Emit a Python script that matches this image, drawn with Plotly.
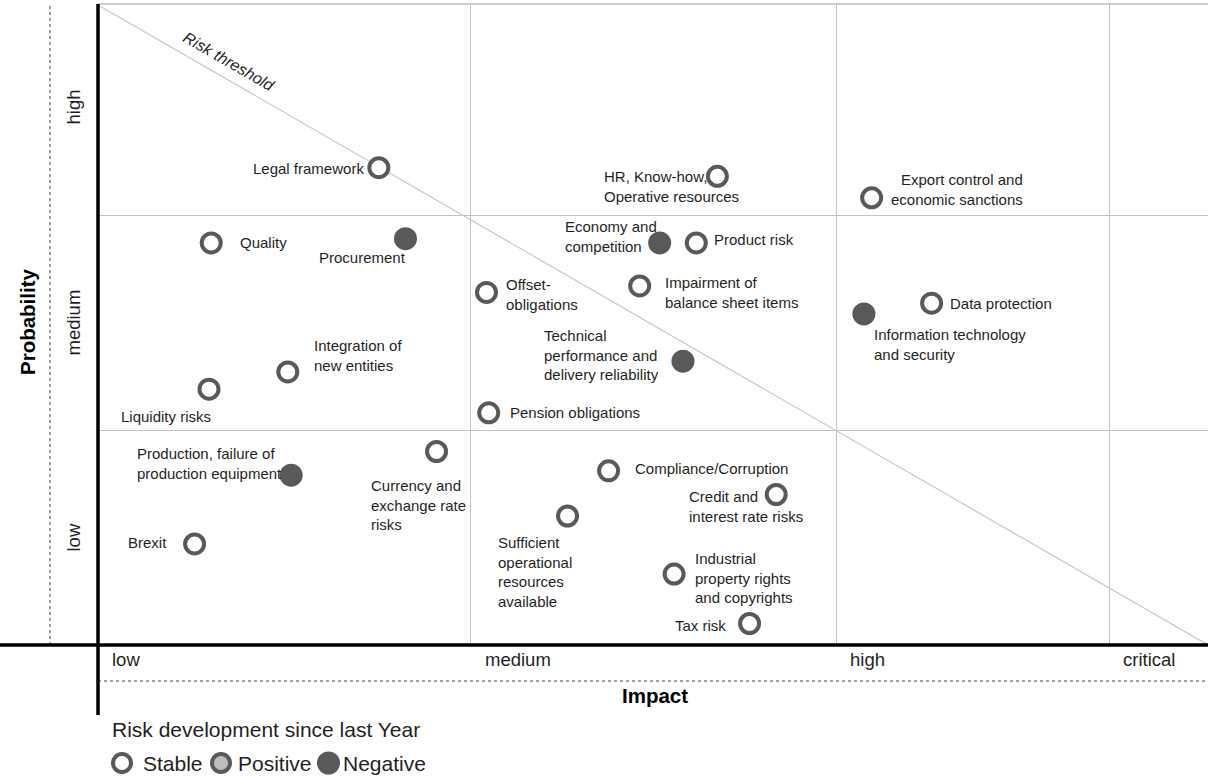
import plotly.graph_objects as go

W, H = 1208, 778

# ---------------- data ----------------
risks = [
    "Legal framework", "HR, Know-how,<br>Operative resources", "Export control and<br>economic sanctions",
    "Quality", "Procurement", "Economy and<br>competition", "Product risk",
    "Offset-<br>obligations", "Impairment of<br>balance sheet items", "Data protection",
    "Information technology<br>and security", "Technical<br>performance and<br>delivery reliability",
    "Integration of<br>new entities", "Liquidity risks", "Pension obligations",
    "Currency and<br>exchange rate<br>risks", "Production, failure of<br>production equipment",
    "Compliance/Corruption", "Credit and<br>interest rate risks",
    "Sufficient<br>operational<br>resources<br>available", "Brexit",
    "Industrial<br>property rights<br>and copyrights", "Tax risk",
]
impact = [25.3, 55.8, 69.7, 10.2, 27.7, 50.6, 53.9, 35.0, 48.8, 75.1, 69.0, 52.7,
          17.1, 10.0, 35.2, 30.5, 17.4, 46.0, 61.1, 42.3, 8.7, 51.9, 58.7]
probability = [2.22, 2.18, 2.08, 1.87, 1.89, 1.87, 1.87, 1.64, 1.67, 1.59, 1.54, 1.32,
               1.27, 1.19, 1.08, 0.90, 0.79, 0.81, 0.70, 0.60, 0.47, 0.33, 0.10]
development = ["Stable", "Stable", "Stable", "Stable", "Negative", "Negative", "Stable",
               "Stable", "Stable", "Stable", "Negative", "Negative", "Stable", "Stable",
               "Stable", "Stable", "Negative", "Stable", "Stable", "Stable", "Stable",
               "Stable", "Stable"]

impact_levels = ["low", "medium", "high", "critical"]
impact_bounds = [0, 33.6, 66.5, 91.1]
prob_levels = ["low", "medium", "high"]
prob_bounds = [0, 1, 2]
threshold_start = 2.977
legend_title = "Risk development since last Year"
legend_items = ["Stable", "Positive", "Negative"]

# ---------------- layout helpers (positions / styles) ----------------
# label placement relative to marker: (xshift px, yshift px, xanchor)
label_pos = [
    (-13, -1, "right"), (-115, -10, "left"), (153, 8, "right"),
    (27, 0, "left"), (3, -19, "right"), (-97, 6, "left"), (16, 3, "left"),
    (17, -2, "left"), (23, -7, "left"), (16, 0, "left"),
    (8, -31, "left"), (-141, 6, "left"),
    (24, 16, "left"), (-90, -27, "left"), (19, 0, "left"),
    (-68, -53, "left"), (-156, 12, "left"),
    (24, 2, "left"), (-89, -12, "left"),
    (-72, -56, "left"), (-26, 1, "right"),
    (19, -4, "left"), (-22, -2, "right"),
]

DARK = "#595959"
FONT = "Arial, Liberation Sans, sans-serif"
TXT = "#1f1f1f"
X0, Y_BOT, Y_TOP = 98, 645, 4
def px(x): return x / W
def py(y): return 1 - y / H

fig = go.Figure()

styles = {
    "Stable": dict(size=19, color="white", line=dict(color=DARK, width=4)),
    "Negative": dict(size=23, color=DARK, line=dict(color=DARK, width=0)),
}
for status in ["Stable", "Negative"]:
    idx = [i for i, d in enumerate(development) if d == status]
    fig.add_trace(go.Scatter(
        x=[impact[i] for i in idx], y=[probability[i] for i in idx],
        mode="markers", marker=dict(symbol="circle", **styles[status]),
        name=status, showlegend=False, hoverinfo="skip", cliponaxis=False))

annotations = []
for i, name in enumerate(risks):
    dx, dy, xa = label_pos[i]
    annotations.append(dict(
        x=impact[i], y=probability[i], xref="x", yref="y", text=name, showarrow=False,
        xshift=dx, yshift=dy, xanchor=xa, yanchor="middle", align=xa,
        font=dict(family=FONT, size=15, color=TXT)))

# impact (x) category labels
for lvl, b in zip(impact_levels, impact_bounds):
    annotations.append(dict(x=b, y=py(659), xref="x", yref="paper", text=lvl, showarrow=False,
                            xshift=12, xanchor="left", yanchor="middle",
                            font=dict(family=FONT, size=18.5, color=TXT)))
# probability (y) category labels
for lvl, b in zip(prob_levels, prob_bounds):
    annotations.append(dict(x=px(73), y=b + 0.5, xref="paper", yref="y", text=lvl, showarrow=False,
                            textangle=-90, xanchor="center", yanchor="middle",
                            font=dict(family=FONT, size=18.5, color=TXT)))

annotations += [
    dict(x=px(27), y=py(322), xref="paper", yref="paper", text="<b>Probability</b>", showarrow=False,
         textangle=-90, xanchor="center", yanchor="middle",
         font=dict(family=FONT, size=20.5, color="black")),
    dict(x=px(655), y=py(695), xref="paper", yref="paper", text="<b>Impact</b>", showarrow=False,
         xanchor="center", yanchor="middle",
         font=dict(family=FONT, size=20.5, color="black")),
    dict(x=11.8, y=2.716, xref="x", yref="y", text="<i>Risk threshold</i>", showarrow=False,
         textangle=30, xanchor="center", yanchor="middle",
         font=dict(family=FONT, size=16, color=TXT)),
    dict(x=px(110), y=py(729), xref="paper", yref="paper", text=legend_title, showarrow=False,
         xanchor="left", yanchor="middle", font=dict(family=FONT, size=21, color=TXT)),
]
for item, lx in zip(legend_items, [141, 236, 341]):
    annotations.append(dict(x=px(lx), y=py(763), xref="paper", yref="paper", text=item,
                            showarrow=False, xanchor="left", yanchor="middle",
                            font=dict(family=FONT, size=21, color=TXT)))

shapes = [
    # threshold diagonal
    dict(type="line", xref="x", yref="y", x0=0, y0=threshold_start, x1=100, y1=0,
         line=dict(color="#c8c8c8", width=1.2), layer="below"),
    # top border
    dict(type="line", xref="paper", yref="paper", x0=px(X0), x1=1, y0=py(Y_TOP), y1=py(Y_TOP),
         line=dict(color="#bdbdbd", width=1.5)),
    # dotted guides
    dict(type="line", xref="paper", yref="paper", x0=px(50), x1=px(50), y0=py(Y_BOT), y1=py(Y_TOP),
         line=dict(color="#444", width=1, dash="dot")),
    dict(type="line", xref="paper", yref="paper", x0=px(X0), x1=1, y0=py(681), y1=py(681),
         line=dict(color="#444", width=1, dash="dot")),
    # thick axes
    dict(type="line", xref="paper", yref="paper", x0=0, x1=1, y0=py(Y_BOT), y1=py(Y_BOT),
         line=dict(color="black", width=3.5)),
    dict(type="line", xref="paper", yref="paper", x0=px(X0), x1=px(X0), y0=py(715), y1=py(Y_TOP),
         line=dict(color="black", width=3.5)),
    # legend symbols
    dict(type="circle", xref="paper", yref="paper", x0=px(113), x1=px(131), y0=py(772), y1=py(754),
         fillcolor="white", line=dict(color=DARK, width=4)),
    dict(type="circle", xref="paper", yref="paper", x0=px(212), x1=px(230), y0=py(772), y1=py(754),
         fillcolor="#bdbdbd", line=dict(color=DARK, width=4)),
    dict(type="circle", xref="paper", yref="paper", x0=px(317), x1=px(340), y0=py(774.5), y1=py(751.5),
         fillcolor=DARK, line=dict(color=DARK, width=0)),
]

fig.update_layout(
    width=W, height=H, margin=dict(l=0, r=0, t=0, b=0, pad=0),
    paper_bgcolor="white", plot_bgcolor="white", showlegend=False,
    xaxis=dict(domain=[px(X0), 1], range=[0, 100], tickvals=impact_bounds[1:], showgrid=True,
               gridcolor="#c3c3c3", gridwidth=1.2, showticklabels=False, zeroline=False,
               showline=False, ticks="", fixedrange=True),
    yaxis=dict(domain=[py(Y_BOT), py(Y_TOP)], range=[0, (Y_BOT - Y_TOP) / 215], tickvals=prob_bounds[1:],
               showgrid=True, gridcolor="#c3c3c3", gridwidth=1.2, showticklabels=False,
               zeroline=False, showline=False, ticks="", fixedrange=True),
    annotations=annotations, shapes=shapes,
    font=dict(family=FONT),
)

fig.write_html("out.html")
